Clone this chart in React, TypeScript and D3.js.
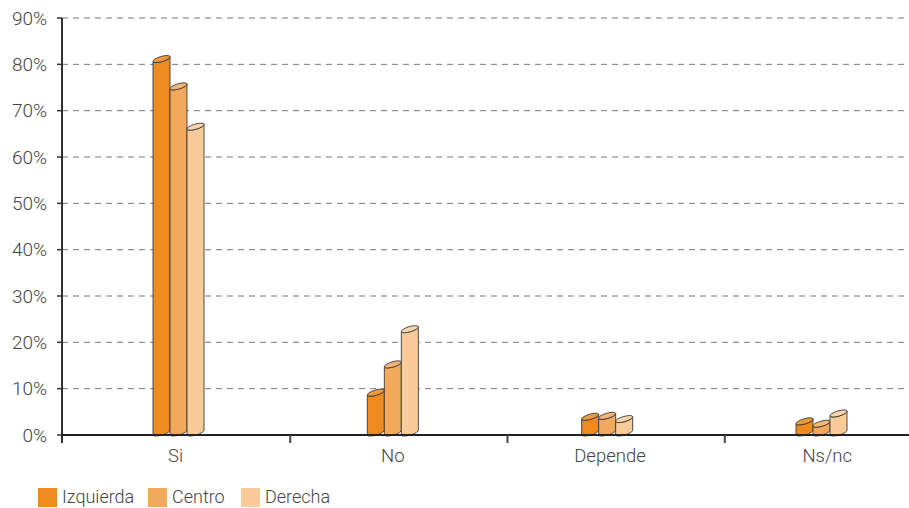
import React from "react";
import * as d3 from "d3";

const categories = ["Si", "No", "Depende", "Ns/nc"];
const seriesNames = ["Izquierda", "Centro", "Derecha"];
const izquierda = [80.6, 8.6, 3.4, 2.4];
const centro = [74.7, 14.7, 3.6, 1.9];
const derecha = [66.0, 22.3, 2.9, 4.1];
const yTicks = [0, 10, 20, 30, 40, 50, 60, 70, 80, 90];

const seriesValues = [izquierda, centro, derecha];
const colors = ["#EE8B20", "#F3A95C", "#F9CB99"];
const topColors = ["#F19A3C", "#F5B674", "#FAD4AB"];

const W = 909;
const H = 508;
const axisX = 62;
const font = "Roboto, 'Liberation Sans', Arial, sans-serif";

export default function App() {
  const y = d3.scaleLinear().domain([0, 90]).range([435, 18]);
  const x = d3.scaleBand<string>().domain(categories).range([73, 942]);
  const gxScale = d3.scalePoint<string>().domain(categories).range([153, 796]);
  const barW = 17;
  const rise = 5;
  const ry = 2.6;
  const rx = Math.sqrt(barW * barW + rise * rise) / 2;
  const angle = (Math.atan2(-rise, barW) * 180) / Math.PI;

  const cyl = (x0: number, v: number, i: number, key: string) => {
    const yb = y(0);
    const yt = y(v);
    const x1 = x0 + barW;
    const body = `M${x0},${yb} L${x0},${yt} A${rx},${ry} ${angle} 0 0 ${x1},${yt - rise} L${x1},${yb - rise} A${rx},${ry} ${angle} 0 1 ${x0},${yb} Z`;
    const top = `M${x0},${yt} A${rx},${ry} ${angle} 0 0 ${x1},${yt - rise} A${rx},${ry} ${angle} 0 0 ${x0},${yt} Z`;
    return (
      <g key={key}>
        <path d={body} fill={colors[i]} stroke="#3a3a3a" strokeWidth={0.9} />
        <path d={top} fill={topColors[i]} stroke="#3a3a3a" strokeWidth={0.9} />
      </g>
    );
  };

  return (
    <svg
      width={W}
      height={H}
      style={{ position: "absolute", left: 0, top: 0, display: "block", background: "#fff" }}
    >
      {yTicks.slice(1).map((t) => (
        <line
          key={"g" + t}
          x1={axisX}
          x2={W}
          y1={y(t)}
          y2={y(t)}
          stroke="#777"
          strokeWidth={1}
          strokeDasharray="6,5"
        />
      ))}
      {yTicks.map((t) => (
        <g key={"yt" + t}>
          <line x1={axisX - 5} x2={axisX} y1={y(t)} y2={y(t)} stroke="#333" strokeWidth={1.5} />
          <text
            x={47}
            y={y(t) + 6.5}
            textAnchor="end"
            fontFamily={font}
            fontWeight={300}
            fontSize={19}
            fill="#444"
          >
            {t}%
          </text>
        </g>
      ))}
      {categories.map((c, ci) => {
        const gx = gxScale(c) as number;
        return (
          <g key={"c" + c}>
            {seriesValues.map((vals, si) => cyl(gx + si * barW, vals[ci], si, c + si))}
          </g>
        );
      })}
      <line x1={axisX} x2={axisX} y1={y(90)} y2={443} stroke="#333" strokeWidth={2} />
      <line x1={axisX} x2={W} y1={y(0)} y2={y(0)} stroke="#222" strokeWidth={1.8} />
      {categories.slice(1).map((c) => (
        <line
          key={"xt" + c}
          x1={x(c) as number}
          x2={x(c) as number}
          y1={y(0)}
          y2={443}
          stroke="#444"
          strokeWidth={2}
        />
      ))}
      {categories.map((c) => (
        <text
          key={"xl" + c}
          x={(x(c) as number) + 80 + (barW * 3) / 2 - 3}
          y={462}
          textAnchor="middle"
          fontFamily={font}
          fontWeight={300}
          fontSize={18.5}
          fill="#444"
        >
          {c}
        </text>
      ))}
      {seriesNames.map((n, i) => {
        const lx = [38, 148, 241][i];
        return (
          <g key={"lg" + n}>
            <rect x={lx} y={488} width={19} height={19} fill={colors[i]} />
            <text x={lx + 24} y={503} fontFamily={font} fontWeight={300} fontSize={18} fill="#444">
              {n}
            </text>
          </g>
        );
      })}
    </svg>
  );
}
